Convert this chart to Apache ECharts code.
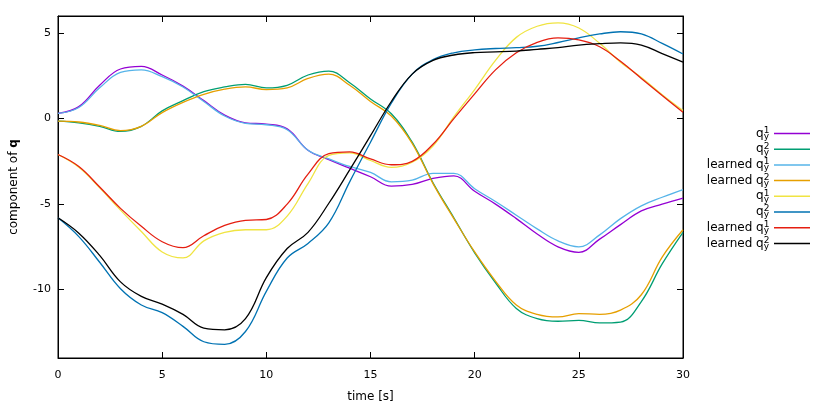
<!DOCTYPE html>
<html>
<head>
<meta charset="utf-8">
<script src="https://cdn.jsdelivr.net/npm/echarts@6/dist/echarts.min.js"></script>
<style>
  html, body { margin: 0; padding: 0; background: #fff; }
  #chart { width: 830px; height: 410px; }
</style>
</head>
<body>
<div id="chart"></div>
<script>
// time axis, seconds
var time = [0,1,2,3,4,5,6,7,8,9,10,11,12,13,14,15,16,17,18,19,20,21,22,23,24,25,26,27,28,29,30];

// first block of components
var q1y  = [0.3,0.7,1.95,2.9,3.05,2.55,1.9,1.05,0.2,-0.25,-0.32,-0.6,-1.85,-2.4,-2.9,-3.4,-3.95,-3.85,-3.5,-3.35,-4.25,-5.0,-5.85,-6.75,-7.5,-7.82,-7.05,-6.2,-5.4,-5.0,-4.65];
var q2y  = [-0.15,-0.25,-0.45,-0.75,-0.45,0.45,1.05,1.58,1.85,2.0,1.8,1.95,2.55,2.78,2.1,1.15,0.28,-1.38,-3.75,-5.8,-7.85,-9.6,-11.1,-11.7,-11.85,-11.8,-11.95,-11.9,-10.7,-8.5,-6.65];
var lq1y = [0.3,0.65,1.8,2.7,2.85,2.45,1.85,1.0,0.15,-0.28,-0.36,-0.65,-1.85,-2.35,-2.8,-3.15,-3.7,-3.6,-3.2,-3.2,-4.1,-4.85,-5.65,-6.45,-7.15,-7.5,-6.8,-5.85,-5.1,-4.6,-4.15];
var lq2y = [-0.15,-0.2,-0.4,-0.7,-0.45,0.35,0.95,1.42,1.72,1.85,1.7,1.8,2.35,2.6,1.95,1.0,0.15,-1.45,-3.8,-5.85,-7.8,-9.5,-10.9,-11.45,-11.6,-11.4,-11.45,-11.2,-10.3,-8.1,-6.5];

// second block of components
var q1b  = [-2.1,-2.85,-4.05,-5.35,-6.6,-7.8,-8.15,-7.15,-6.65,-6.5,-6.5,-5.7,-3.8,-2.15,-2.0,-2.45,-2.85,-2.55,-1.6,0.1,1.7,3.4,4.75,5.4,5.6,5.3,4.4,3.3,2.4,1.4,0.47];
var q2b  = [-5.8,-6.9,-8.4,-9.95,-10.9,-11.35,-12.15,-13.05,-13.2,-12.45,-10.1,-8.15,-7.3,-6.1,-3.7,-1.38,0.9,2.6,3.45,3.85,4.02,4.1,4.15,4.23,4.45,4.72,4.95,5.08,4.95,4.4,3.78];
var lq2b = [-5.8,-6.7,-8.0,-9.55,-10.4,-10.85,-11.45,-12.25,-12.35,-11.7,-9.3,-7.6,-6.65,-4.95,-3.0,-1.0,1.0,2.6,3.4,3.72,3.86,3.9,3.95,4.05,4.15,4.3,4.38,4.43,4.3,3.8,3.3];
var lq1b = [-2.1,-2.8,-4.0,-5.25,-6.3,-7.2,-7.55,-6.85,-6.25,-5.95,-5.9,-5.0,-3.25,-2.05,-1.95,-2.36,-2.7,-2.5,-1.5,0.0,1.45,2.85,3.85,4.46,4.72,4.6,4.2,3.35,2.35,1.35,0.37];

var yTicks = [-10, -5, 0, 5];

var seriesNames = ['q1y', 'q2y', 'lq1y', 'lq2y', 'q1b', 'q2b', 'lq1b', 'lq2b'];
var seriesData = [q1y, q2y, lq1y, lq2y, q1b, q2b, lq1b, lq2b];
var colors = ['#9400d3', '#009e73', '#56b4e9', '#e69f00', '#f0e442', '#0072b2', '#e51e10', '#000000'];
// legend texts: prefix, superscript, subscript
var legendPrefix = ['q', 'q', 'learned q', 'learned q', 'q', 'q', 'learned q', 'learned q'];
var legendSup = ['1', '2', '1', '2', '1', '2', '1', '2'];
var legendSub = ['y', 'y', 'y', 'y', 'y', 'y', 'y', 'y'];

var font = 'DejaVu Sans';

var series = seriesNames.map(function (name, i) {
  return {
    name: name,
    type: 'line',
    smooth: 0.4,
    symbol: 'none',
    lineStyle: { width: 1.3, color: colors[i] },
    itemStyle: { color: colors[i] },
    data: time.map(function (t, k) { return [t, seriesData[i][k]]; })
  };
});

var tickStyle = { inside: true, length: 6, lineStyle: { color: '#000' } };

var myChart = echarts.init(document.getElementById('chart'));
myChart.setOption({
  animation: false,
  backgroundColor: '#fff',
  grid: {
    left: 57, right: 147, top: 16, bottom: 52,
    show: true, borderColor: '#000', borderWidth: 1
  },
  legend: {
    orient: 'vertical',
    right: 15,
    top: 121,
    align: 'right',
    icon: 'rect',
    itemWidth: 36,
    itemHeight: 1.5,
    itemGap: 0.7,
    data: seriesNames,
    formatter: function (name) {
      var i = seriesNames.indexOf(name);
      return '{t|' + legendPrefix[i] + '}{sup|' + legendSup[i] + '}{sub|' + legendSub[i] + '}';
    },
    textStyle: {
      fontFamily: font,
      color: '#000',
      rich: {
        t: { fontFamily: font, fontSize: 12, color: '#000', align: 'left', lineHeight: 15 },
        sup: { fontFamily: font, fontSize: 9, color: '#000', verticalAlign: 'top', align: 'left', width: 0, lineHeight: 15 },
        sub: { fontFamily: font, fontSize: 9, color: '#000', verticalAlign: 'bottom', align: 'left', lineHeight: 15 }
      }
    }
  },
  xAxis: [{
    type: 'value',
    min: 0, max: 30, interval: 5,
    name: 'time [s]',
    nameLocation: 'middle',
    nameGap: 33,
    nameTextStyle: { fontFamily: font, fontSize: 12, color: '#000' },
    axisLine: { onZero: false, lineStyle: { color: '#000' } },
    axisTick: tickStyle,
    axisLabel: { fontFamily: font, fontSize: 11, color: '#000', margin: 12 },
    splitLine: { show: false }
  }, {
    type: 'value',
    position: 'top',
    min: 0, max: 30, interval: 5,
    axisLine: { onZero: false, lineStyle: { color: '#000' } },
    axisTick: tickStyle,
    axisLabel: { show: false },
    splitLine: { show: false }
  }],
  yAxis: [{
    type: 'value',
    min: -14, max: 6,
    name: '{n|component of }{b|q}',
    nameLocation: 'middle',
    nameGap: 38,
    nameTextStyle: {
      rich: {
        n: { fontFamily: font, fontSize: 12, color: '#000' },
        b: { fontFamily: font, fontSize: 12, color: '#000', fontWeight: 'bold' }
      }
    },
    axisLine: { show: true, onZero: false, lineStyle: { color: '#000' } },
    axisTick: { inside: true, length: 6, lineStyle: { color: '#000' }, customValues: yTicks },
    axisLabel: { fontFamily: font, fontSize: 11, color: '#000', margin: 7, customValues: yTicks },
    splitLine: { show: false }
  }, {
    type: 'value',
    position: 'right',
    min: -14, max: 6,
    axisLine: { show: true, onZero: false, lineStyle: { color: '#000' } },
    axisTick: { inside: true, length: 6, lineStyle: { color: '#000' }, customValues: yTicks },
    axisLabel: { show: false, customValues: yTicks },
    splitLine: { show: false }
  }],
  series: series
});
</script>
</body>
</html>
